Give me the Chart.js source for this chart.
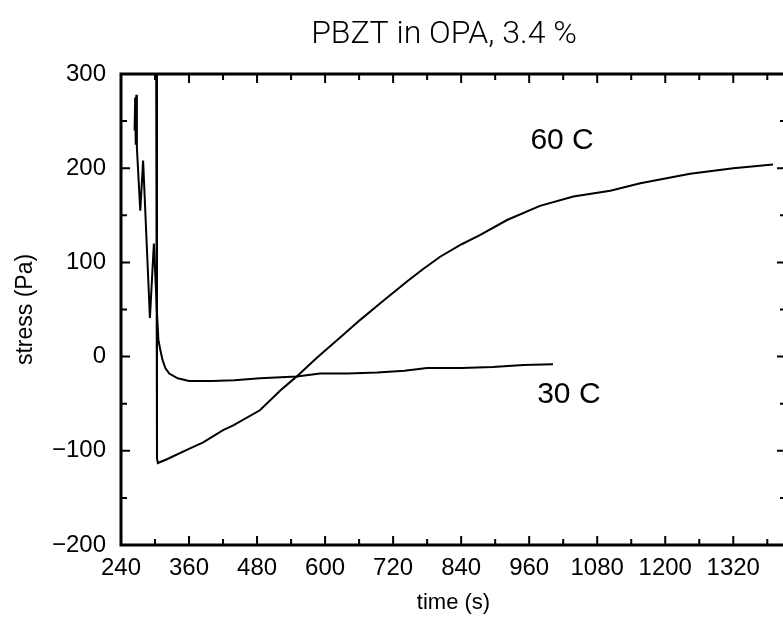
<!DOCTYPE html>
<html>
<head>
<meta charset="utf-8">
<script src="https://cdn.jsdelivr.net/npm/chart.js@4"></script>
<style>
  html, body { margin: 0; padding: 0; background: #fff; overflow: hidden; }
</style>
</head>
<body>
<canvas id="stressChart" width="792" height="634"></canvas>
<script>
// 60 C run
const time60 = [302, 303.5, 305, 321, 356, 385, 420, 438, 485, 521, 550, 586, 626, 662, 700, 745, 773, 803, 840, 873, 921, 979, 1038, 1103, 1156, 1244, 1320, 1390];
const stress60 = [320, -108, -113, -109, -99, -91, -78, -73, -57, -36, -21, -1, 20, 39, 58, 80, 93, 106, 119, 129, 145, 160, 170, 176, 184, 194, 200, 204];

// 30 C run
const time30 = [264, 265, 266, 267, 268, 274, 279, 291, 298, 301, 304, 306, 309, 313, 318, 325, 340, 360, 400, 440, 485, 550, 591, 640, 692, 740, 780, 840, 896, 950, 1002];
const stress30 = [240, 275, 225, 278, 222, 155, 208, 41, 120, 80, 40, 18, 8, -3, -12, -18, -23, -26, -26, -25, -23, -21, -18, -18, -17, -15, -12, -12, -11, -9, -8];

// curve labels
const curveLabels = ['60 C', '30 C'];
const labelTime = [1018, 1030];
const labelStress = [229, -41];

const chartTitle = 'PBZT in OPA, 3.4 %';

function toPoints(xs, ys) {
    return xs.map((t, i) => ({ x: t, y: ys[i] }));
}

// box, inward ticks and the text inside the plot
const framePlugin = {
    id: 'frame',
    afterDatasetsDraw(chart) {
        const { ctx, chartArea: a, scales: { x, y } } = chart;
        ctx.save();
        ctx.strokeStyle = '#000';
        ctx.lineWidth = 2;
        ctx.beginPath();
        x.ticks.forEach(t => {
            const px = x.getPixelForValue(t.value);
            const len = t.value % 120 === 0 ? 9 : 6;
            ctx.moveTo(px, a.bottom); ctx.lineTo(px, a.bottom - len);
            ctx.moveTo(px, a.top); ctx.lineTo(px, a.top + len);
        });
        y.ticks.forEach(t => {
            const py = y.getPixelForValue(t.value);
            const len = t.value % 100 === 0 ? 9 : 6;
            ctx.moveTo(a.left, py); ctx.lineTo(a.left + len, py);
            ctx.moveTo(a.right, py); ctx.lineTo(a.right - len, py);
        });
        ctx.stroke();
        ctx.lineWidth = 3;
        ctx.strokeRect(a.left, a.top, a.right - a.left, a.bottom - a.top);

        ctx.fillStyle = '#000';
        ctx.textAlign = 'center';
        ctx.textBaseline = 'middle';
        ctx.font = '300 30px "Liberation Sans"';
        curveLabels.forEach((txt, i) => {
            ctx.fillText(txt, x.getPixelForValue(labelTime[i]), y.getPixelForValue(labelStress[i]));
        });

        ctx.font = '300 32px Roboto';
        ctx.fillText(chartTitle, 444, 35);
        ctx.restore();
    }
};

const ctx = document.getElementById('stressChart').getContext('2d');
new Chart(ctx, {
    type: 'scatter',
    data: {
        datasets: [{
            label: '60 C',
            data: toPoints(time60, stress60),
            showLine: true,
            borderColor: '#000',
            borderWidth: 2,
            pointRadius: 0
        }, {
            label: '30 C',
            data: toPoints(time30, stress30),
            showLine: true,
            borderColor: '#000',
            borderWidth: 2,
            pointRadius: 0
        }]
    },
    options: {
        responsive: false,
        animation: false,
        layout: { padding: { top: 74, right: 6, left: 0, bottom: 0 } },
        plugins: {
            legend: { display: false },
            tooltip: { enabled: false }
        },
        scales: {
            x: {
                type: 'linear',
                min: 240,
                max: 1413,
                grid: { display: false, drawTicks: false },
                border: { display: false },
                ticks: {
                    stepSize: 60,
                    includeBounds: false,
                    autoSkip: false,
                    maxRotation: 0,
                    padding: 9,
                    color: '#000',
                    font: { family: 'Liberation Sans', size: 24 },
                    callback: v => (v % 120 === 0 ? String(v) : '')
                },
                title: {
                    display: true,
                    text: 'time (s)',
                    color: '#000',
                    font: { family: 'Liberation Sans', size: 22 },
                    padding: { top: 0, bottom: 18 }
                },
                afterFit: s => { s.height = 89; }
            },
            y: {
                min: -200,
                max: 300,
                grid: { display: false, drawTicks: false },
                border: { display: false },
                ticks: {
                    stepSize: 50,
                    autoSkip: false,
                    padding: 15,
                    color: '#000',
                    font: { family: 'Liberation Sans', size: 24 },
                    callback: v => (v % 100 === 0 ? (v < 0 ? '\u2212' + (-v) : String(v)) : '')
                },
                title: {
                    display: true,
                    text: 'stress (Pa)',
                    color: '#000',
                    font: { family: 'Liberation Sans', size: 23 },
                    padding: { top: 12, bottom: 0 }
                },
                afterFit: s => { s.width = 121; }
            }
        }
    },
    plugins: [framePlugin]
});
</script>
</body>
</html>
